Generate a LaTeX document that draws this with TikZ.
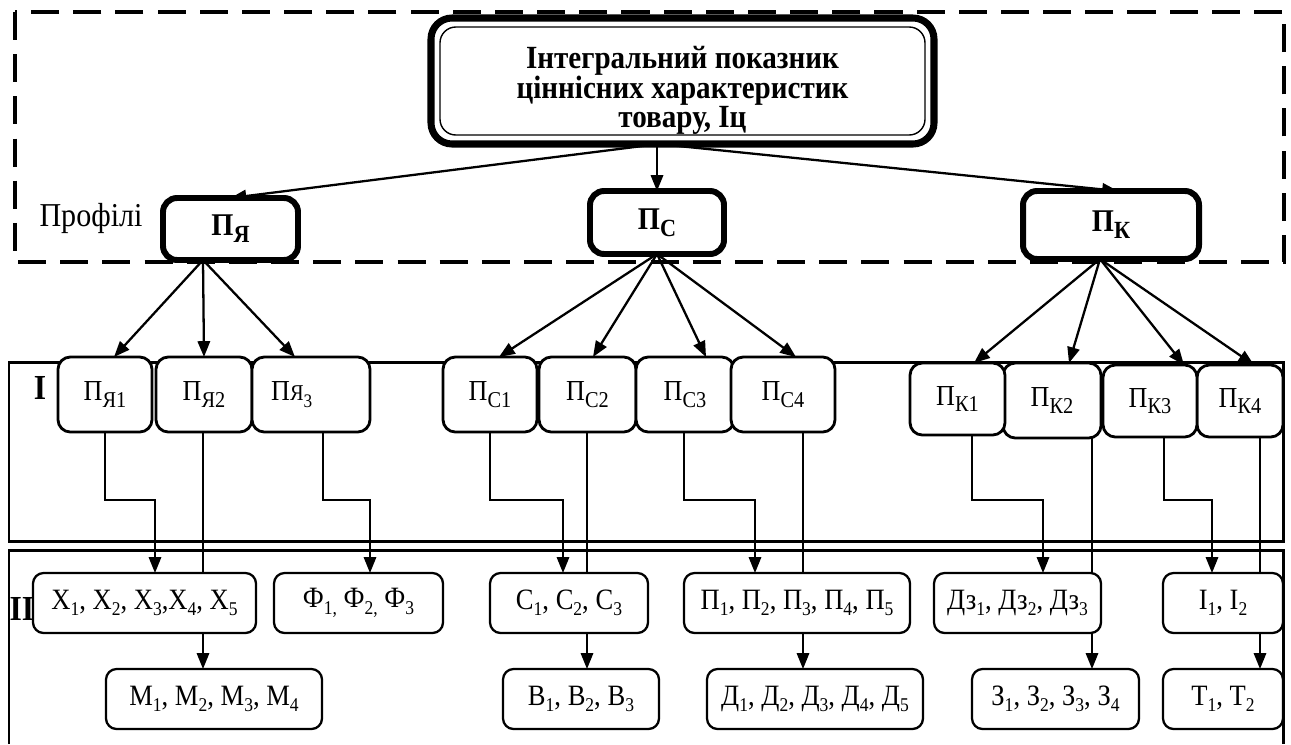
\documentclass[tikz,border=0pt]{standalone}
\usepackage{fontspec}
\setmainfont{Liberation Serif}[FakeStretch=0.9]
\usetikzlibrary{arrows.meta,calc,backgrounds}

% lowered, reduced index
\newcommand\sbs[1]{\raisebox{-0.22em}{\scalebox{0.66}{#1}}}
\newcommand\sbl[1]{\raisebox{-0.22em}{\scalebox{0.78}{#1}}}
\newcommand\smi[1]{\scalebox{0.78}{#1}}

\begin{document}
\begin{tikzpicture}[x=0.02cm,y=-0.02cm,
  every node/.style={inner sep=0pt, outer sep=0pt, align=center},
  sz/.style 2 args={minimum width=#1*0.02cm, minimum height=#2*0.02cm},
  topbox/.style={draw, line width=4pt, rounded corners=12pt, fill=white,
    font=\fontsize{18.4}{14.4}\selectfont\bfseries},
  prof/.style={draw, line width=3.4pt, rounded corners=8pt, fill=white,
    font=\fontsize{18}{20}\selectfont\bfseries},
  lvA/.style={draw, line width=1.6pt, rounded corners=7pt, fill=white,
    font=\fontsize{16.5}{18}\selectfont},
  lvB/.style={draw, line width=1.3pt, rounded corners=6pt, fill=white,
    font=\fontsize{16.8}{18}\selectfont},
  tag/.style={font=\fontsize{20}{22}\selectfont\bfseries},
  conn/.style={line width=1.1pt, -{Triangle[length=9pt,width=7pt]}},
  fan/.style={line width=1.3pt, -{Triangle[length=9pt,width=7pt]}},
  frame/.style={line width=1.7pt},
]
\useasboundingbox (0,0) rectangle (1291,744);

% top node with a double border
\node[topbox, sz={503}{126}] (top) at (682.5,81)
  {\raisebox{-10pt}[0pt][0pt]{\begin{tabular}{@{}c@{}}Інтегральний показник\\
   ціннісних характеристик\\товару, Іц\end{tabular}}};
\draw[line width=0.8pt, rounded corners=9pt]
  ($(top.north west)+(9,9)$) rectangle ($(top.south east)+(-9,-9)$);

% profiles
\node[font=\fontsize{19}{20}\selectfont] (lbl) at (91,218) {Профілі};
\node[prof, sz={135}{62}] (pya) at (230.5,229) {\raisebox{-3pt}{П\sbl{Я}}};
\node[prof, sz={134}{63}] (psc) at (657,222.5) {\raisebox{-3pt}{П\sbl{С}}};
\node[prof, sz={176}{68}] (pk) at (1111,225) {\raisebox{-3pt}{П\sbl{К}}};

% level I
\node[tag] (tI) at (40,388) {I};
\node[lvA, sz={94}{75}] (p11) at (105,394.5) {П\sbl{Я1}};
\node[lvA, sz={96}{75}] (p12) at (204,394.5) {П\sbl{Я2}};
\node[lvA, sz={118}{75}] (p13) at (311,394.5) {\hspace*{-22pt}П\smi{Я}\sbs{3}};
\node[lvA, sz={94}{75}] (p21) at (490,394.5) {П\sbl{С1}};
\node[lvA, sz={97}{75}] (p22) at (587.5,394.5) {П\sbl{С2}};
\node[lvA, sz={98}{75}] (p23) at (685,394.5) {П\sbl{С3}};
\node[lvA, sz={104}{75}] (p24) at (783,394.5) {П\sbl{С4}};
\node[lvA, sz={98}{75}] (p32) at (1052,400.5) {П\sbl{К2}};
\node[lvA, sz={95}{72}] (p31) at (957.5,399) {П\sbl{К1}};
\node[lvA, sz={86}{72}] (p34) at (1240,401) {П\sbl{К4}};
\node[lvA, sz={94}{72}] (p33) at (1150,401) {П\sbl{К3}};

% level II
\node[lvB, sz={223}{60}] (hx) at (144.5,603)
  {Х\sbs{1}, Х\sbs{2}, Х\sbs{3},Х\sbs{4}, Х\sbs{5}};
\node[tag] (tII) at (22,609) {II};
\node[lvB, sz={169}{60}] (hf) at (358.5,603) {Ф\sbs{1,} Ф\sbs{2,} Ф\sbs{3}};
\node[lvB, sz={158}{60}] (hc) at (569,603) {С\sbs{1}, С\sbs{2}, С\sbs{3}};
\node[lvB, sz={226}{60}] (hp) at (797,603)
  {П\sbs{1}, П\sbs{2}, П\sbs{3}, П\sbs{4}, П\sbs{5}};
\node[lvB, sz={167}{60}] (hdz) at (1017.5,603) {Дз\sbs{1}, Дз\sbs{2}, Дз\sbs{3}};
\node[lvB, sz={120}{60}] (hi) at (1223,603) {І\sbs{1}, І\sbs{2}};
\node[lvB, sz={216}{60}] (hm) at (214,699) {М\sbs{1}, М\sbs{2}, М\sbs{3}, М\sbs{4}};
\node[lvB, sz={156}{60}] (hb) at (581,699) {В\sbs{1}, В\sbs{2}, В\sbs{3}};
\node[lvB, sz={216}{60}] (hd) at (815,699)
  {Д\sbs{1}, Д\sbs{2}, Д\sbs{3}, Д\sbs{4}, Д\sbs{5}};
\node[lvB, sz={167}{60}] (hz) at (1055.5,699) {З\sbs{1}, З\sbs{2}, З\sbs{3}, З\sbs{4}};
\node[lvB, sz={120}{60}] (ht) at (1223,699) {Т\sbs{1}, Т\sbs{2}};

% elbow points and offset starts of the connectors
\coordinate (e11) at (155,500);
\coordinate (e13) at (370,500);
\coordinate (e21) at (563,500);
\coordinate (e23) at (755,500);
\coordinate (e31) at (1043,500);
\coordinate (e33) at (1212,500);
\coordinate (s13) at ($(p13.south)+(12,0)$);
\coordinate (s23) at ($(p23.south)+(-1,0)$);
\coordinate (s31) at ($(p31.south)+(14.5,0)$);
\coordinate (s33) at ($(p33.south)+(14,0)$);
\coordinate (s12) at ($(p12.south)+(-1,0)$);
\coordinate (s22) at ($(p22.south)+(-0.5,0)$);
\coordinate (s24) at ($(p24.south)+(20,0)$);
\coordinate (s32) at ($(p32.south)+(40,0)$);
\coordinate (s34) at ($(p34.south)+(20,0)$);
\coordinate (src) at ($(top.south)+(-24,0)$);

\begin{pgfonlayer}{background}
  % dashed profile frame and level frames
  \draw[line width=2pt, dash pattern=on 16pt off 8pt] (15,12) rectangle (1284,262);
  \draw[frame] (9,362) rectangle (1283,541);
  \draw[frame] (9,744) -- (9,550) -- (1283,550) -- (1283,744);

  % from the integral indicator to the profiles
  \draw[fan] (src) -- (pya.north);
  \draw[fan] (psc.north |- src) -- (psc.north);
  \draw[fan] (src) -- ($(pk.north)+(7,0)$);

  % profile fans
  \draw[fan] ($(pya.south)+(-27.5,0)$) -- ($(p11.north)+(9,0)$);
  \draw[fan] ($(pya.south)+(-27.5,0)$) -- (p12.north);
  \draw[fan] ($(pya.south)+(-27.5,0)$) -- ($(p13.north)+(-16,0)$);
  \draw[fan] (psc.south) -- ($(p21.north)+(9,0)$);
  \draw[fan] (psc.south) -- ($(p22.north)+(5.5,0)$);
  \draw[fan] (psc.south) -- ($(p23.north)+(21,0)$);
  \draw[fan] (psc.south) -- ($(p24.north)+(13,0)$);
  \draw[fan] ($(pk.south)+(-11,0)$) -- ($(p31.north)+(16.5,0)$);
  \draw[fan] ($(pk.south)+(-11,0)$) -- ($(p32.north)+(17,0)$);
  \draw[fan] ($(pk.south)+(-11,0)$) -- ($(p33.north)+(34,0)$);
  \draw[fan] ($(pk.south)+(-11,0)$) -- ($(p34.north)+(14,0)$);

  % elbow connectors into the upper row
  \draw[conn] (p11.south) |- (e11) -- (e11 |- hx.north);
  \draw[conn] (s13) |- (e13) -- (e13 |- hf.north);
  \draw[conn] (p21.south) |- (e21) -- (e21 |- hc.north);
  \draw[conn] (s23) |- (e23) -- (e23 |- hp.north);
  \draw[conn] (s31) |- (e31) -- (e31 |- hdz.north);
  \draw[conn] (s33) |- (e33) -- (e33 |- hi.north);

  % straight connectors into the lower row
  \draw[conn] (s12) -- (s12 |- hm.north);
  \draw[conn] (s22) -- (s22 |- hb.north);
  \draw[conn] (s24) -- (s24 |- hd.north);
  \draw[conn] (s32) -- (s32 |- hz.north);
  \draw[conn] (s34) -- (s34 |- ht.north);
\end{pgfonlayer}
\end{tikzpicture}
\end{document}
